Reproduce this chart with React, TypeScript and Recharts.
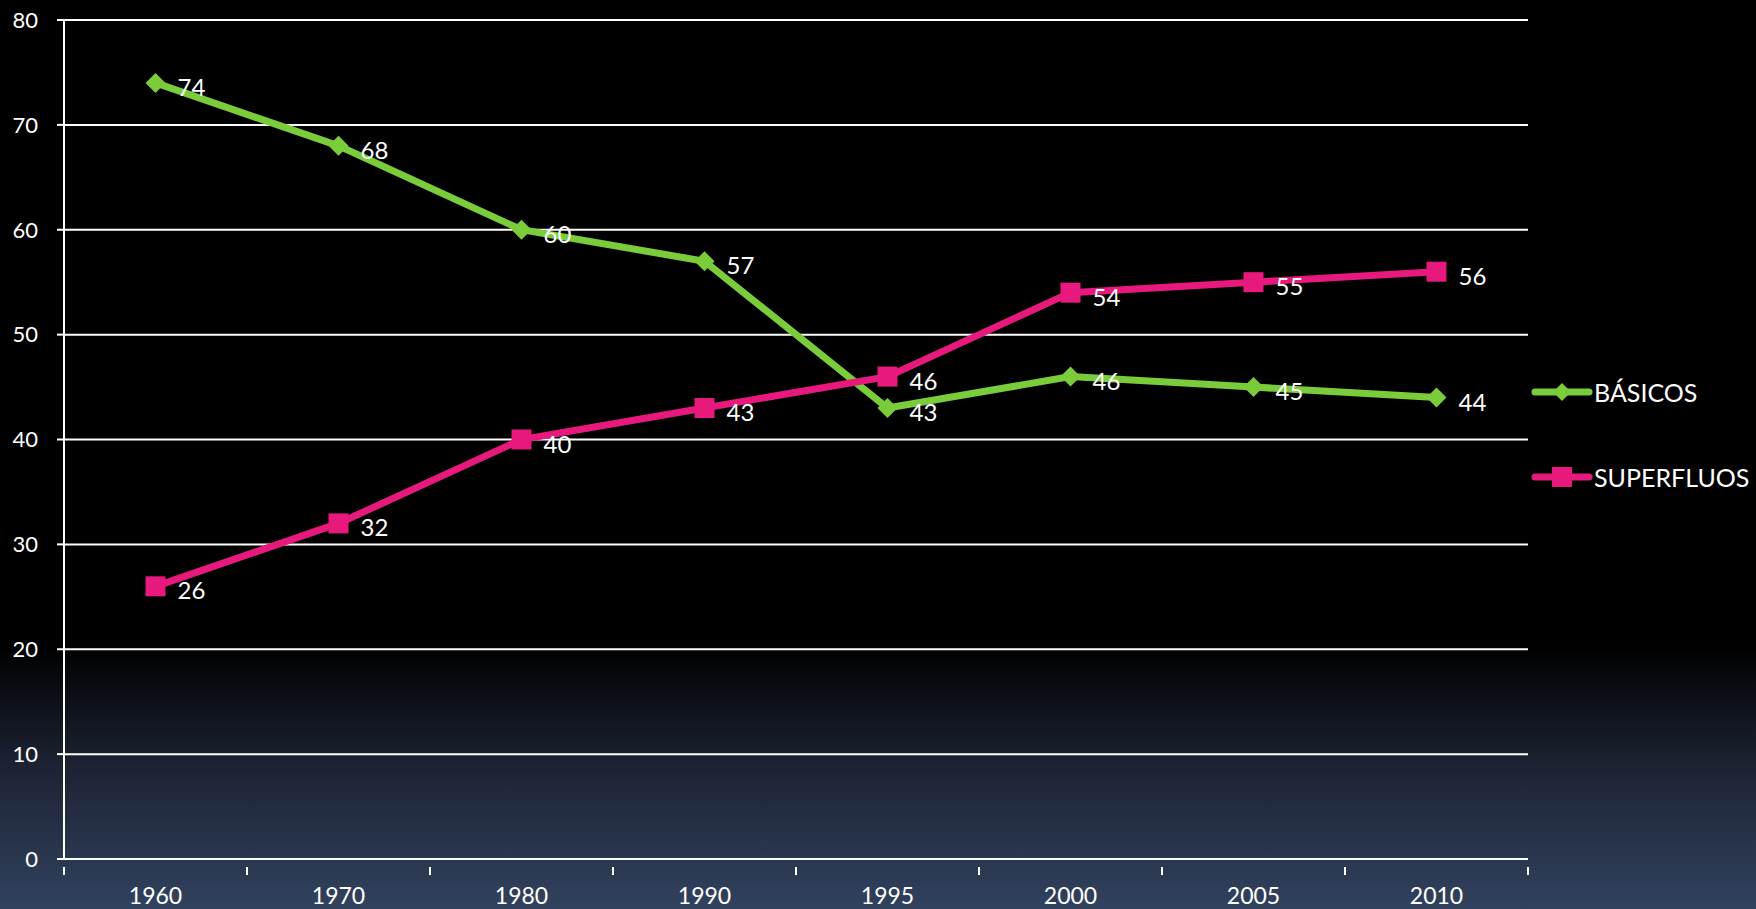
import { LineChart, Line, XAxis, YAxis, CartesianGrid, LabelList } from 'recharts';

const years = ['1960', '1970', '1980', '1990', '1995', '2000', '2005', '2010'];
const basicos = [74, 68, 60, 57, 43, 46, 45, 44];
const superfluos = [26, 32, 40, 43, 46, 54, 55, 56];
const yTicks = [0, 10, 20, 30, 40, 50, 60, 70, 80];

const data = years.map((year, i) => ({
  year,
  basicos: basicos[i],
  superfluos: superfluos[i],
}));

const W = 1756;
const H = 909;
const LEFT = 64;
const RIGHT = 228;
const GREEN = '#7acc3a';
const PINK = '#e8197c';
const FONT = 'Lato, "Open Sans", sans-serif';

const bandHalf = (W - LEFT - RIGHT) / years.length / 2;

// category labels in the middle of each band, tick marks on the band edges
function YearTick(props: any) {
  const { x, y, payload, index } = props;
  const last = index === years.length - 1;
  return (
    <g>
      <line x1={x - bandHalf} x2={x - bandHalf} y1={y} y2={y + 8} stroke="#fff" strokeWidth={2} />
      {last && <line x1={x + bandHalf} x2={x + bandHalf} y1={y} y2={y + 8} stroke="#fff" strokeWidth={2} />}
      <text x={x} y={y + 37} textAnchor="middle" fill="#fff" fontSize={23} fontFamily={FONT}>
        {payload.value}
      </text>
    </g>
  );
}

function Diamond(props: any) {
  const { cx, cy } = props;
  if (cx == null || cy == null) return null;
  const r = 10;
  return <path d={`M${cx},${cy - r}L${cx + r},${cy}L${cx},${cy + r}L${cx - r},${cy}Z`} fill={GREEN} />;
}

function Square(props: any) {
  const { cx, cy } = props;
  if (cx == null || cy == null) return null;
  return <rect x={cx - 10} y={cy - 10} width={20} height={20} fill={PINK} />;
}

function ValueLabel(props: any) {
  const { x, y, value } = props;
  return (
    <text x={x + 22} y={y + 7} dominantBaseline="middle" fill="#fff" fontSize={24} fontFamily={FONT}>
      {value}
    </text>
  );
}

function LegendItem({ color, label, square }: { color: string; label: string; square?: boolean }) {
  return (
    <div style={{ display: 'flex', alignItems: 'center', height: 30 }}>
      <svg width={62} height={24}>
        <line x1={4} x2={58} y1={12} y2={12} stroke={color} strokeWidth={7} strokeLinecap="round" />
        {square ? (
          <rect x={21} y={2} width={20} height={20} fill={color} />
        ) : (
          <path d="M31,3L40,12L31,21L22,12Z" fill={color} />
        )}
      </svg>
      <span style={{ color: '#fff', fontSize: 25, fontFamily: FONT, marginLeft: 1 }}>{label}</span>
    </div>
  );
}

export default function App() {
  return (
    <div
      style={{
        position: 'relative',
        width: W,
        height: H,
        background: 'linear-gradient(to bottom, #000 0%, #000 71%, #1c2232 84%, #31425f 100%)',
      }}
    >
      <style>{`body{margin:0}`}</style>
      <LineChart width={W} height={H} data={data} margin={{ top: 20, right: RIGHT, bottom: 0, left: 0 }}>
        <CartesianGrid vertical={false} stroke="#fff" strokeWidth={2} />
        <XAxis
          dataKey="year"
          scale="band"
          height={50}
          axisLine={{ stroke: '#fff', strokeWidth: 2 }}
          tickLine={false}
          tick={<YearTick />}
          interval={0}
        />
        <YAxis
          domain={[0, 80]}
          ticks={yTicks}
          width={LEFT}
          axisLine={{ stroke: '#fff', strokeWidth: 2 }}
          tickLine={{ stroke: '#fff', strokeWidth: 2 }}
          tickSize={7}
          tickMargin={19}
          tick={{ fill: '#fff', fontSize: 22, fontFamily: FONT }}
        />
        <Line
          dataKey="basicos"
          stroke={GREEN}
          strokeWidth={7}
          dot={<Diamond />}
          activeDot={false}
          isAnimationActive={false}
        >
          <LabelList dataKey="basicos" content={<ValueLabel />} />
        </Line>
        <Line
          dataKey="superfluos"
          stroke={PINK}
          strokeWidth={7}
          dot={<Square />}
          activeDot={false}
          isAnimationActive={false}
        >
          <LabelList dataKey="superfluos" content={<ValueLabel />} />
        </Line>
      </LineChart>
      <div style={{ position: 'absolute', left: 1531, top: 377 }}>
        <LegendItem color={GREEN} label="BÁSICOS" />
        <div style={{ height: 55 }} />
        <LegendItem color={PINK} label="SUPERFLUOS" square />
      </div>
    </div>
  );
}
